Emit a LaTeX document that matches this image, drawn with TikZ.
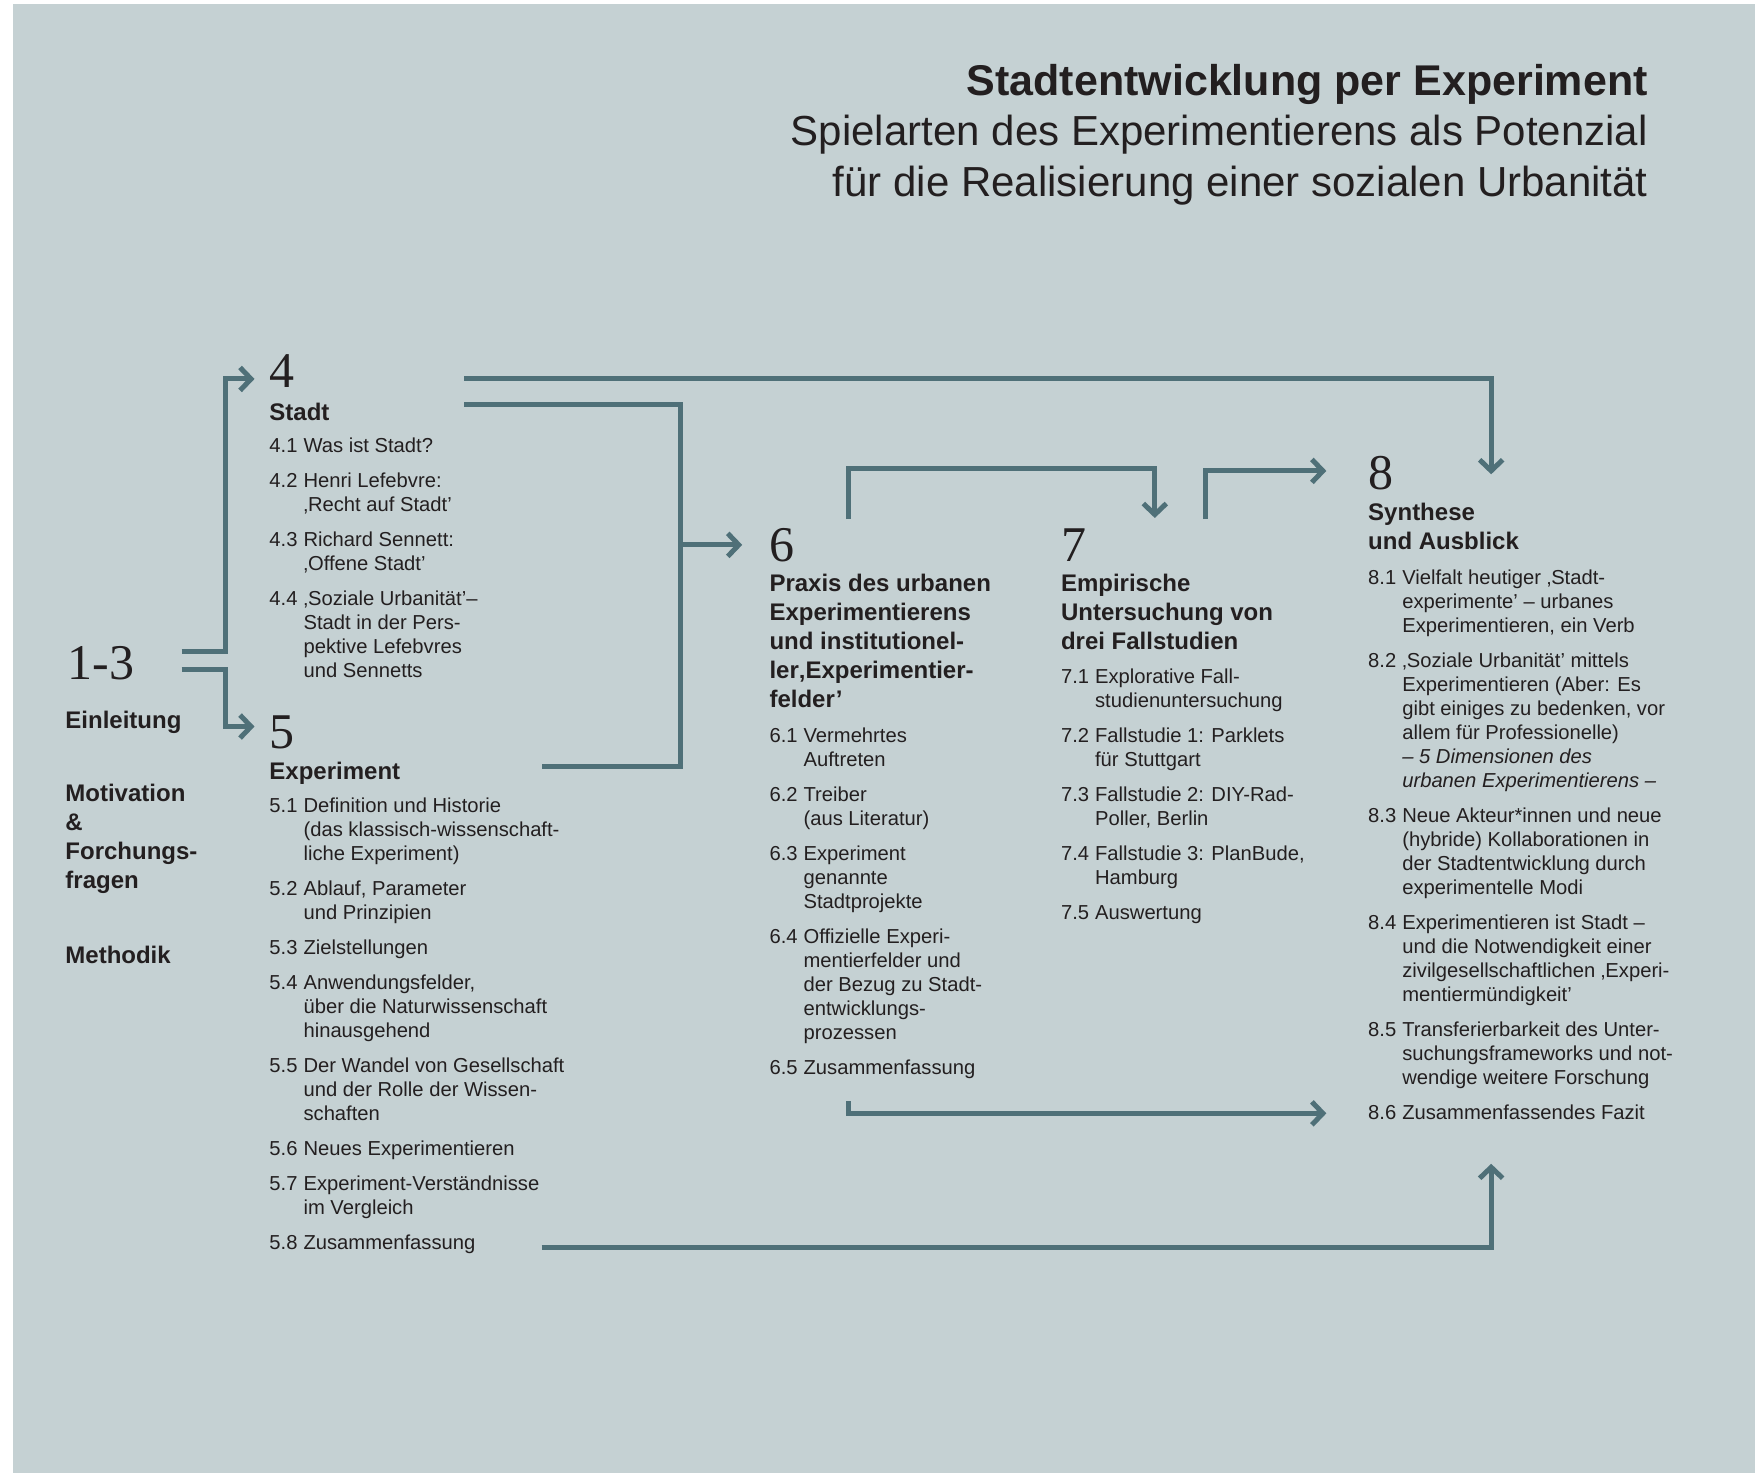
\documentclass[tikz,border=0pt]{standalone}
\usepackage{fontspec}
\setmainfont{Liberation Sans}
\newfontfamily\numfont{Liberation Serif}
\usetikzlibrary{arrows.meta}
\definecolor{urbangrey}{HTML}{C5D1D3}
\definecolor{urbanteal}{HTML}{4F7078}
\definecolor{urbandark}{HTML}{231F20}
\newcommand{\itemgap}{\\[5.5pt]}

\tikzset{
  chapnum/.style={font=\numfont\fontsize{25}{25}\selectfont, text=urbandark, anchor=base west, inner sep=0pt},
  chaphead/.style={font=\bfseries\fontsize{12}{14.4}\selectfont, text=urbandark, anchor=base west, inner sep=0pt},
  chaplist/.style={font=\fontsize{10.1}{12}\selectfont, text=urbandark, anchor=base west, inner sep=0pt},
  link/.style={urbanteal, line width=2.5pt},
  flow/.style={link, -{Straight Barb[length=5.5pt,width=11.5pt]}}
}

\begin{document}
\begin{tikzpicture}[x=0.5606pt, y=-0.5606pt]
  \useasboundingbox (0,0) rectangle (1568,1314);
  \fill[urbangrey] (12,4) rectangle (1565,1314);

  % Title
  \node[font=\bfseries\fontsize{21.5}{25}\selectfont, text=urbandark, anchor=base east, inner sep=0pt] (title) at (1470,85) {Stadtentwicklung per Experiment};
  \node[font=\fontsize{21}{25.2}\selectfont, text=urbandark, anchor=base east, inner sep=0pt] (subtitle) at (1470,130)
    {\begin{tabular}[t]{@{}r@{}}Spielarten des Experimentierens als Potenzial\\für die Realisierung einer sozialen Urbanität\end{tabular}};

  % Chapters 1-3
  \node[chapnum] (n13) at (60,606) {1-3};
  \node[chaphead] (intro) at (58,650) {Einleitung};
  \node[chaphead] (motiv) at (58,715) {\begin{tabular}[t]{@{}l@{}}Motivation\\\&\\Forchungs-\\fragen\end{tabular}};
  \node[chaphead] (method) at (58,859) {Methodik};

  % Chapter 4
  \node[chapnum] (n4) at (240,346) {4};
  \node[chaphead] (h4) at (240,375) {Stadt};
  \node[chaplist] (l4) at (240,404) {\begin{tabular}[t]{@{}l@{\hspace{3pt}}l@{}}
    4.1 & Was ist Stadt?\itemgap
    4.2 & Henri Lefebvre:\\ & ‚Recht auf Stadt’\itemgap
    4.3 & Richard Sennett:\\ & ‚Offene Stadt’\itemgap
    4.4 & ‚Soziale Urbanität’–\\ & Stadt in der Pers-\\ & pektive Lefebvres\\ & und Sennetts
  \end{tabular}};

  % Chapter 5
  \node[chapnum] (n5) at (240,668) {5};
  \node[chaphead] (h5) at (240,695) {Experiment};
  \node[chaplist] (l5) at (240,725) {\begin{tabular}[t]{@{}l@{\hspace{3pt}}l@{}}
    5.1 & Definition und Historie\\ & (das klassisch-wissenschaft-\\ & liche Experiment)\itemgap
    5.2 & Ablauf, Parameter\\ & und Prinzipien\itemgap
    5.3 & Zielstellungen\itemgap
    5.4 & Anwendungsfelder,\\ & über die Naturwissenschaft\\ & hinausgehend\itemgap
    5.5 & Der Wandel von Gesellschaft\\ & und der Rolle der Wissen-\\ & schaften\itemgap
    5.6 & Neues Experimentieren\itemgap
    5.7 & Experiment-Verständnisse\\ & im Vergleich\itemgap
    5.8 & Zusammenfassung
  \end{tabular}};

  % Chapter 6
  \node[chapnum] (n6) at (686,501) {6};
  \node[chaphead] (h6) at (686,528) {\begin{tabular}[t]{@{}l@{}}Praxis des urbanen\\Experimentierens\\und institutionel-\\ler‚Experimentier-\\felder’\end{tabular}};
  \node[chaplist] (l6) at (686,662) {\begin{tabular}[t]{@{}l@{\hspace{3pt}}l@{}}
    6.1 & Vermehrtes\\ & Auftreten\itemgap
    6.2 & Treiber\\ & (aus Literatur)\itemgap
    6.3 & Experiment\\ & genannte\\ & Stadtprojekte\itemgap
    6.4 & Offizielle Experi-\\ & mentierfelder und\\ & der Bezug zu Stadt-\\ & entwicklungs-\\ & prozessen\itemgap
    6.5 & Zusammenfassung
  \end{tabular}};

  % Chapter 7
  \node[chapnum] (n7) at (946,501) {7};
  \node[chaphead] (h7) at (946,528) {\begin{tabular}[t]{@{}l@{}}Empirische\\Untersuchung von\\drei Fallstudien\end{tabular}};
  \node[chaplist] (l7) at (946,610) {\begin{tabular}[t]{@{}l@{\hspace{3pt}}l@{}}
    7.1 & Explorative Fall-\\ & studienuntersuchung\itemgap
    7.2 & Fallstudie 1: Parklets\\ & für Stuttgart\itemgap
    7.3 & Fallstudie 2: DIY-Rad-\\ & Poller, Berlin\itemgap
    7.4 & Fallstudie 3: PlanBude,\\ & Hamburg\itemgap
    7.5 & Auswertung
  \end{tabular}};

  % Chapter 8
  \node[chapnum] (n8) at (1220,437) {8};
  \node[chaphead] (h8) at (1220,464) {\begin{tabular}[t]{@{}l@{}}Synthese\\und Ausblick\end{tabular}};
  \node[chaplist] (l8) at (1220,521) {\begin{tabular}[t]{@{}l@{\hspace{3pt}}l@{}}
    8.1 & Vielfalt heutiger ‚Stadt-\\ & experimente’ – urbanes\\ & Experimentieren, ein Verb\itemgap
    8.2 & ‚Soziale Urbanität’ mittels\\ & Experimentieren (Aber: Es\\ & gibt einiges zu bedenken, vor\\ & allem für Professionelle)\\ & \textit{– 5 Dimensionen des}\\ & \textit{urbanen Experimentierens –}\itemgap
    8.3 & Neue Akteur*innen und neue\\ & (hybride) Kollaborationen in\\ & der Stadtentwicklung durch\\ & experimentelle Modi\itemgap
    8.4 & Experimentieren ist Stadt –\\ & und die Notwendigkeit einer\\ & zivilgesellschaftlichen ‚Experi-\\ & mentiermündigkeit’\itemgap
    8.5 & Transferierbarkeit des Unter-\\ & suchungsframeworks und not-\\ & wendige weitere Forschung\itemgap
    8.6 & Zusammenfassendes Fazit
  \end{tabular}};

  % Connector ends
  \coordinate (o13a) at (162,581);
  \coordinate (o13b) at (162,597);
  \coordinate (i4) at (227,338);
  \coordinate (i5) at (227,648);
  \coordinate (o4a) at (414,338);
  \coordinate (o4b) at (414,361);
  \coordinate (o5a) at (483,684);
  \coordinate (o5b) at (483,1113);
  \coordinate (m6) at (607,486);
  \coordinate (i6) at (662,486);
  \coordinate (o6a) at (757,463);
  \coordinate (o6b) at (757,982);
  \coordinate (i7) at (1030,462);
  \coordinate (o7a) at (1075,463);
  \coordinate (i8a) at (1183,420);
  \coordinate (i8b) at (1183,993);
  \coordinate (i8top) at (1330,423);
  \coordinate (i8bot) at (1330,1038);

  % From 1-3 to 4 and 5
  \draw[flow] (o13a) -- ++(39,0) |- (i4);
  \draw[flow] (o13b) -- ++(39,0) |- (i5);

  % From 4 and 5 into 6
  \draw[link] (o4b) -- ++(193,0) |- (o5a);
  \draw[flow] (m6) -- (i6);

  % From 6 to 7, 7 to 8
  \draw[flow] (o6a) -- ++(0,-45) -| (i7);
  \draw[flow] (o7a) |- (i8a);

  % Into 8
  \draw[flow] (o4a) -| (i8top);
  \draw[flow] (o6b) |- (i8b);
  \draw[flow] (o5b) -| (i8bot);
\end{tikzpicture}
\end{document}
